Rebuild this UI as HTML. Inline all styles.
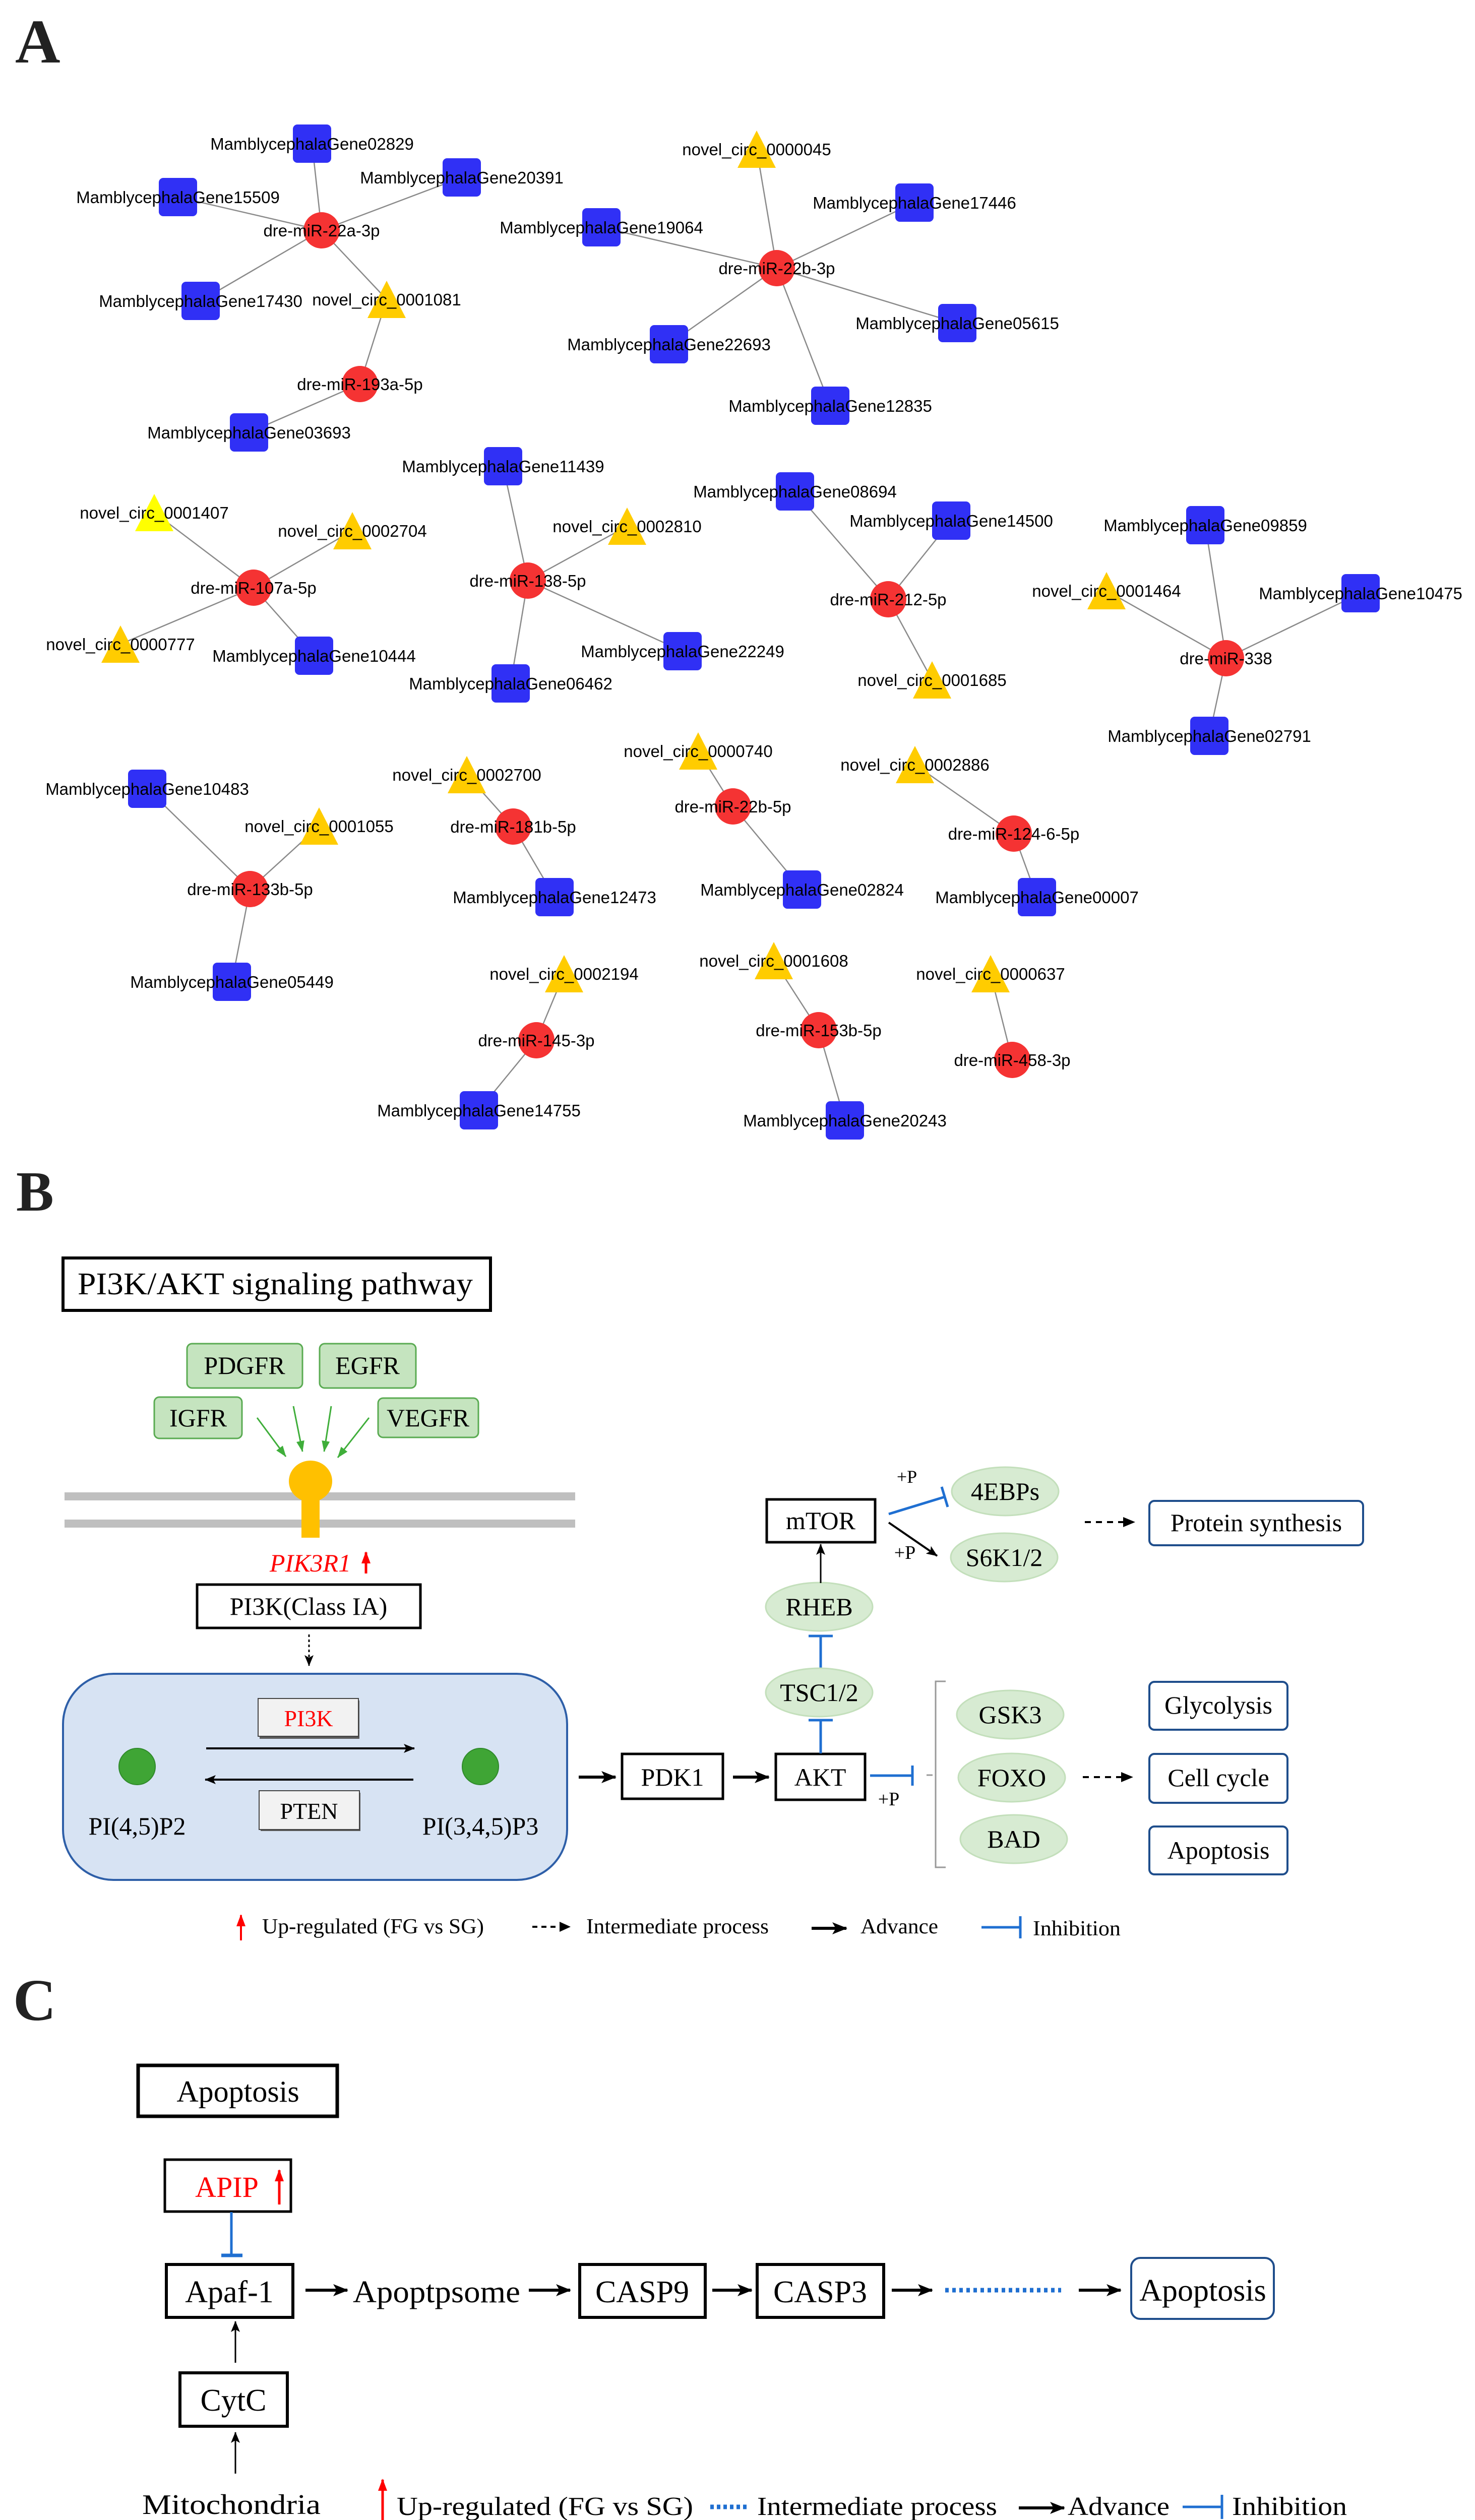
<!DOCTYPE html>
<html><head><meta charset="utf-8"><style>html,body{margin:0;padding:0;background:#fff;width:2926px;height:5041px;overflow:hidden}svg{display:block}</style></head>
<body>
<svg xmlns="http://www.w3.org/2000/svg" width="2926" height="5041" viewBox="0 0 2926 5041">
<defs>
<marker id="ab" markerUnits="userSpaceOnUse" markerWidth="30" markerHeight="30" viewBox="0 0 30 30" refX="28" refY="15" orient="auto"><path d="M0,3 L30,15 L0,27 L7,15 Z" fill="#000"/></marker>
<marker id="as" markerUnits="userSpaceOnUse" markerWidth="22" markerHeight="22" viewBox="0 0 22 22" refX="21" refY="11" orient="auto"><path d="M0,2 L22,11 L0,20 L5,11 Z" fill="#000"/></marker>
<marker id="ag" markerUnits="userSpaceOnUse" markerWidth="22" markerHeight="22" viewBox="0 0 22 22" refX="21" refY="11" orient="auto"><path d="M0,3 L22,11 L0,19 Z" fill="#3fae3a"/></marker>
<marker id="ar" markerUnits="userSpaceOnUse" markerWidth="24" markerHeight="24" viewBox="0 0 24 24" refX="22" refY="12" orient="auto"><path d="M0,3 L24,12 L0,21 Z" fill="#f00"/></marker>
</defs>
<rect width="2926" height="5041" fill="#fff"/>

<!-- ===== A ===== -->
<text x="30" y="124" font-family="Liberation Serif, serif" font-weight="bold" font-size="124" fill="#222">A</text>
<g stroke="#8a8a8a" stroke-width="2.5">
<line x1="638" y1="457" x2="619" y2="285"/><line x1="638" y1="457" x2="916" y2="352"/><line x1="638" y1="457" x2="353" y2="391"/><line x1="638" y1="457" x2="398" y2="597"/><line x1="638" y1="457" x2="767" y2="594"/>
<line x1="767" y1="594" x2="714" y2="762"/><line x1="714" y1="762" x2="494" y2="858"/>
<line x1="1541" y1="532" x2="1501" y2="296"/><line x1="1541" y1="532" x2="1193" y2="451"/><line x1="1541" y1="532" x2="1327" y2="683"/><line x1="1541" y1="532" x2="1814" y2="402"/><line x1="1541" y1="532" x2="1899" y2="641"/><line x1="1541" y1="532" x2="1647" y2="805"/>
<line x1="1762" y1="1189" x2="1577" y2="975"/><line x1="1762" y1="1189" x2="1887" y2="1033"/><line x1="1762" y1="1189" x2="1849" y2="1349"/>
<line x1="2432" y1="1306" x2="2391" y2="1042"/><line x1="2432" y1="1306" x2="2195" y2="1172"/><line x1="2432" y1="1306" x2="2699" y2="1177"/><line x1="2432" y1="1306" x2="2399" y2="1460"/>
<line x1="2011" y1="1654" x2="1815" y2="1517"/><line x1="2011" y1="1654" x2="2057" y2="1780"/>
<line x1="1454" y1="1600" x2="1385" y2="1490"/><line x1="1454" y1="1600" x2="1591" y2="1765"/>
<line x1="1624" y1="2044" x2="1535" y2="1906"/><line x1="1624" y1="2044" x2="1676" y2="2223"/>
<line x1="2008" y1="2103" x2="1965" y2="1932"/>
<line x1="503" y1="1166" x2="306" y2="1017"/><line x1="503" y1="1166" x2="699" y2="1053"/><line x1="503" y1="1166" x2="239" y2="1278"/><line x1="503" y1="1166" x2="623" y2="1301"/>
<line x1="1047" y1="1152" x2="998" y2="925"/><line x1="1047" y1="1152" x2="1244" y2="1044"/><line x1="1047" y1="1152" x2="1354" y2="1292"/><line x1="1047" y1="1152" x2="1013" y2="1356"/>
<line x1="496" y1="1764" x2="292" y2="1565"/><line x1="496" y1="1764" x2="633" y2="1639"/><line x1="496" y1="1764" x2="460" y2="1948"/>
<line x1="1018" y1="1640" x2="926" y2="1537"/><line x1="1018" y1="1640" x2="1100" y2="1780"/>
<line x1="1064" y1="2064" x2="1119" y2="1932"/><line x1="1064" y1="2064" x2="950" y2="2203"/>
</g>
<g fill="#3030f5">
<rect x="581" y="247" width="76" height="76" rx="9"/><rect x="878" y="314" width="76" height="76" rx="9"/><rect x="315" y="353" width="76" height="76" rx="9"/><rect x="360" y="559" width="76" height="76" rx="9"/><rect x="456" y="820" width="76" height="76" rx="9"/>
<rect x="1155" y="413" width="76" height="76" rx="9"/><rect x="1289" y="645" width="76" height="76" rx="9"/><rect x="1776" y="364" width="76" height="76" rx="9"/><rect x="1861" y="603" width="76" height="76" rx="9"/><rect x="1609" y="767" width="76" height="76" rx="9"/>
<rect x="1539" y="937" width="76" height="76" rx="9"/><rect x="1849" y="995" width="76" height="76" rx="9"/>
<rect x="2353" y="1004" width="76" height="76" rx="9"/><rect x="2661" y="1139" width="76" height="76" rx="9"/><rect x="2361" y="1422" width="76" height="76" rx="9"/>
<rect x="1553" y="1727" width="76" height="76" rx="9"/><rect x="2019" y="1742" width="76" height="76" rx="9"/><rect x="1638" y="2185" width="76" height="76" rx="9"/>
<rect x="960" y="887" width="76" height="76" rx="9"/><rect x="585" y="1263" width="76" height="76" rx="9"/><rect x="1316" y="1254" width="76" height="76" rx="9"/><rect x="975" y="1318" width="76" height="76" rx="9"/>
<rect x="254" y="1527" width="76" height="76" rx="9"/><rect x="422" y="1910" width="76" height="76" rx="9"/><rect x="1062" y="1742" width="76" height="76" rx="9"/><rect x="912" y="2165" width="76" height="76" rx="9"/>
</g>
<g fill="#f53333">
<circle cx="638" cy="457" r="36"/><circle cx="714" cy="762" r="36"/><circle cx="1541" cy="532" r="36"/><circle cx="1762" cy="1189" r="36"/><circle cx="2432" cy="1306" r="36"/>
<circle cx="2011" cy="1654" r="36"/><circle cx="1454" cy="1600" r="36"/><circle cx="1624" cy="2044" r="36"/><circle cx="2008" cy="2103" r="36"/>
<circle cx="503" cy="1166" r="36"/><circle cx="1047" cy="1152" r="36"/><circle cx="496" cy="1764" r="36"/><circle cx="1018" cy="1640" r="36"/><circle cx="1064" cy="2064" r="36"/>
</g>
<g fill="#ffcc00">
<polygon points="767,557 729,631 805,631"/><polygon points="1501,259 1463,333 1539,333"/><polygon points="1849,1312 1811,1386 1887,1386"/><polygon points="2195,1135 2157,1209 2233,1209"/>
<polygon points="1815,1480 1777,1554 1853,1554"/><polygon points="1385,1453 1347,1527 1423,1527"/><polygon points="1535,1869 1497,1943 1573,1943"/><polygon points="1965,1895 1927,1969 2003,1969"/>
<polygon points="699,1016 661,1090 737,1090"/><polygon points="239,1241 201,1315 277,1315"/><polygon points="1244,1007 1206,1081 1282,1081"/>
<polygon points="633,1602 595,1676 671,1676"/><polygon points="926,1500 888,1574 964,1574"/><polygon points="1119,1895 1081,1969 1157,1969"/>
</g>
<polygon points="306,980 268,1054 344,1054" fill="#ffff00"/>
<g font-family="Liberation Sans, Arial, sans-serif" font-size="33" fill="#000" text-anchor="middle">
<text x="619" y="297">MamblycephalaGene02829</text><text x="916" y="364">MamblycephalaGene20391</text><text x="353" y="403">MamblycephalaGene15509</text><text x="638" y="469">dre-miR-22a-3p</text>
<text x="398" y="609">MamblycephalaGene17430</text><text x="767" y="606">novel_circ_0001081</text><text x="714" y="774">dre-miR-193a-5p</text><text x="494" y="870">MamblycephalaGene03693</text>
<text x="1501" y="308">novel_circ_0000045</text><text x="1193" y="463">MamblycephalaGene19064</text><text x="1541" y="544">dre-miR-22b-3p</text><text x="1327" y="695">MamblycephalaGene22693</text>
<text x="1814" y="414">MamblycephalaGene17446</text><text x="1899" y="653">MamblycephalaGene05615</text><text x="1647" y="817">MamblycephalaGene12835</text>
<text x="1577" y="987">MamblycephalaGene08694</text><text x="1887" y="1045">MamblycephalaGene14500</text><text x="1762" y="1201">dre-miR-212-5p</text><text x="1849" y="1361">novel_circ_0001685</text>
<text x="2391" y="1054">MamblycephalaGene09859</text><text x="2195" y="1184">novel_circ_0001464</text><text x="2699" y="1189">MamblycephalaGene10475</text><text x="2432" y="1318">dre-miR-338</text><text x="2399" y="1472">MamblycephalaGene02791</text>
<text x="1815" y="1529">novel_circ_0002886</text><text x="2011" y="1666">dre-miR-124-6-5p</text><text x="2057" y="1792">MamblycephalaGene00007</text>
<text x="1385" y="1502">novel_circ_0000740</text><text x="1454" y="1612">dre-miR-22b-5p</text><text x="1591" y="1777">MamblycephalaGene02824</text>
<text x="1535" y="1918">novel_circ_0001608</text><text x="1624" y="2056">dre-miR-153b-5p</text><text x="1676" y="2235">MamblycephalaGene20243</text>
<text x="1965" y="1944">novel_circ_0000637</text><text x="2008" y="2115">dre-miR-458-3p</text>
<text x="306" y="1029">novel_circ_0001407</text><text x="699" y="1065">novel_circ_0002704</text><text x="503" y="1178">dre-miR-107a-5p</text><text x="239" y="1290">novel_circ_0000777</text><text x="623" y="1313">MamblycephalaGene10444</text>
<text x="998" y="937">MamblycephalaGene11439</text><text x="1244" y="1056">novel_circ_0002810</text><text x="1047" y="1164">dre-miR-138-5p</text><text x="1354" y="1304">MamblycephalaGene22249</text><text x="1013" y="1368">MamblycephalaGene06462</text>
<text x="292" y="1577">MamblycephalaGene10483</text><text x="633" y="1651">novel_circ_0001055</text><text x="496" y="1776">dre-miR-133b-5p</text><text x="460" y="1960">MamblycephalaGene05449</text>
<text x="926" y="1549">novel_circ_0002700</text><text x="1018" y="1652">dre-miR-181b-5p</text><text x="1100" y="1792">MamblycephalaGene12473</text>
<text x="1119" y="1944">novel_circ_0002194</text><text x="1064" y="2076">dre-miR-145-3p</text><text x="950" y="2215">MamblycephalaGene14755</text>
</g>

<!-- ===== B ===== -->
<g font-family="Liberation Serif, serif" fill="#000">
<text x="32" y="2402" font-weight="bold" font-size="112" fill="#222">B</text>
<rect x="125" y="2496" width="848" height="104" fill="#fff" stroke="#000" stroke-width="6"/>
<text x="154" y="2568" font-size="62" textLength="784" lengthAdjust="spacingAndGlyphs">PI3K/AKT signaling pathway</text>

<g fill="#c5e4bf" stroke="#5aab52" stroke-width="3">
<rect x="371" y="2666" width="229" height="88" rx="10"/><rect x="634" y="2666" width="191" height="88" rx="10"/>
<rect x="306" y="2772" width="174" height="82" rx="10"/><rect x="750" y="2774" width="199" height="78" rx="10"/>
</g>
<g font-size="50" text-anchor="middle">
<text x="485" y="2726">PDGFR</text><text x="729" y="2726">EGFR</text><text x="393" y="2830">IGFR</text><text x="849" y="2830">VEGFR</text>
</g>
<g stroke="#3fae3a" stroke-width="3" marker-end="url(#ag)">
<line x1="510" y1="2813" x2="567" y2="2890"/><line x1="582" y1="2790" x2="600" y2="2880"/><line x1="657" y1="2790" x2="643" y2="2880"/><line x1="732" y1="2813" x2="670" y2="2892"/>
</g>
<rect x="128" y="2961" width="1013" height="16" fill="#bfbfbf"/>
<rect x="128" y="3015" width="1013" height="16" fill="#bfbfbf"/>
<rect x="598" y="2940" width="36" height="111" fill="#ffc000"/>
<ellipse cx="616" cy="2939" rx="43" ry="41" fill="#ffc000"/>

<text x="535" y="3118" font-size="50" font-style="italic" fill="#f00">PIK3R1</text>
<line x1="726" y1="3122" x2="726" y2="3080" stroke="#f00" stroke-width="5" marker-end="url(#ar)"/>
<rect x="391" y="3144" width="443" height="86" fill="#fff" stroke="#000" stroke-width="5"/>
<text x="612" y="3204" font-size="50" text-anchor="middle">PI3K(Class IA)</text>
<line x1="613" y1="3243" x2="613" y2="3305" stroke="#000" stroke-width="3" stroke-dasharray="5,5" marker-end="url(#as)"/>

<rect x="125" y="3321" width="1000" height="409" rx="100" fill="#d7e3f3" stroke="#2e5fa8" stroke-width="4"/>
<rect x="515" y="3374" width="198" height="76" fill="#5a5a5a"/>
<rect x="512" y="3370" width="199" height="75" fill="#f2f2f2" stroke="#444" stroke-width="2"/>
<text x="612" y="3425" font-size="46" text-anchor="middle" fill="#f00">PI3K</text>
<line x1="409" y1="3469" x2="822" y2="3469" stroke="#000" stroke-width="4" marker-end="url(#as)"/>
<line x1="820" y1="3531" x2="407" y2="3531" stroke="#000" stroke-width="4" marker-end="url(#as)"/>
<rect x="517" y="3557" width="198" height="76" fill="#5a5a5a"/>
<rect x="514" y="3553" width="199" height="77" fill="#f2f2f2" stroke="#444" stroke-width="2"/>
<text x="613" y="3609" font-size="46" text-anchor="middle">PTEN</text>
<ellipse cx="272" cy="3505" rx="36" ry="36" fill="#3fa535" stroke="#2f8a2a" stroke-width="2"/>
<ellipse cx="953" cy="3505" rx="36" ry="36" fill="#3fa535" stroke="#2f8a2a" stroke-width="2"/>
<text x="272" y="3640" font-size="50" text-anchor="middle">PI(4,5)P2</text>
<text x="953" y="3640" font-size="50" text-anchor="middle">PI(3,4,5)P3</text>

<line x1="1148" y1="3526" x2="1221" y2="3526" stroke="#000" stroke-width="6" marker-end="url(#ab)"/>
<rect x="1234" y="3480" width="200" height="89" fill="#fff" stroke="#000" stroke-width="5"/>
<text x="1334" y="3543" font-size="50" text-anchor="middle">PDK1</text>
<line x1="1454" y1="3526" x2="1525" y2="3526" stroke="#000" stroke-width="6" marker-end="url(#ab)"/>
<rect x="1539" y="3480" width="177" height="91" fill="#fff" stroke="#000" stroke-width="5"/>
<text x="1627" y="3543" font-size="50" text-anchor="middle">AKT</text>

<g stroke="#1f6fd1" stroke-width="5" fill="none">
<line x1="1726" y1="3523" x2="1810" y2="3523"/><line x1="1810" y1="3503" x2="1810" y2="3543"/>
<line x1="1628" y1="3479" x2="1628" y2="3413"/><line x1="1604" y1="3413" x2="1652" y2="3413"/>
<line x1="1628" y1="3310" x2="1628" y2="3246"/><line x1="1604" y1="3246" x2="1652" y2="3246"/>
<line x1="1763" y1="3004" x2="1874" y2="2970"/><line x1="1868" y1="2950" x2="1880" y2="2990"/>
</g>
<text x="1763" y="3582" font-size="38" text-anchor="middle">+P</text>
<path d="M1876,3336 L1856,3336 L1856,3705 L1876,3705" fill="none" stroke="#999" stroke-width="3"/>
<line x1="1838" y1="3522" x2="1850" y2="3522" stroke="#999" stroke-width="3"/>

<g fill="#d7ebd2" stroke="#c3dfbb" stroke-width="3">
<ellipse cx="2004" cy="3402" rx="106" ry="48"/><ellipse cx="2007" cy="3527" rx="106" ry="48"/><ellipse cx="2011" cy="3649" rx="106" ry="48"/>
<ellipse cx="1625" cy="3358" rx="106" ry="48"/><ellipse cx="1625" cy="3188" rx="106" ry="48"/>
<ellipse cx="1994" cy="2959" rx="106" ry="48"/><ellipse cx="1992" cy="3090" rx="106" ry="48"/>
</g>
<g font-size="50" text-anchor="middle">
<text x="2004" y="3419">GSK3</text><text x="2007" y="3544">FOXO</text><text x="2011" y="3666">BAD</text>
<text x="1625" y="3375">TSC1/2</text><text x="1625" y="3205">RHEB</text>
<text x="1994" y="2976">4EBPs</text><text x="1992" y="3107">S6K1/2</text>
</g>
<line x1="1628" y1="3141" x2="1628" y2="3064" stroke="#000" stroke-width="3" marker-end="url(#as)"/>
<rect x="1521" y="2975" width="215" height="85" fill="#fff" stroke="#000" stroke-width="5"/>
<text x="1628" y="3034" font-size="50" text-anchor="middle">mTOR</text>
<line x1="1763" y1="3021" x2="1859" y2="3087" stroke="#000" stroke-width="4" marker-end="url(#as)"/>
<text x="1799" y="2942" font-size="36" text-anchor="middle">+P</text>
<text x="1795" y="3093" font-size="38" text-anchor="middle">+P</text>

<g stroke="#000" stroke-width="4" stroke-dasharray="12,10">
<line x1="2152" y1="3020" x2="2230" y2="3020"/><line x1="2148" y1="3526" x2="2226" y2="3526"/>
</g>
<path d="M2228,3010 L2252,3020 L2228,3030 Z"/><path d="M2224,3516 L2248,3526 L2224,3536 Z"/>
<g fill="#fff" stroke="#1f4e8c" stroke-width="4">
<rect x="2280" y="2978" width="424" height="88" rx="10"/>
<rect x="2280" y="3337" width="274" height="95" rx="10"/>
<rect x="2280" y="3480" width="274" height="97" rx="10"/>
<rect x="2280" y="3624" width="274" height="95" rx="10"/>
</g>
<g font-size="50" text-anchor="middle">
<text x="2492" y="3038">Protein synthesis</text><text x="2417" y="3400">Glycolysis</text><text x="2417" y="3544">Cell cycle</text><text x="2417" y="3688">Apoptosis</text>
</g>

<line x1="478" y1="3850" x2="478" y2="3800" stroke="#f00" stroke-width="4" marker-end="url(#ar)"/>
<g font-size="42">
<text x="520" y="3836" textLength="440" lengthAdjust="spacingAndGlyphs">Up-regulated (FG vs SG)</text>
<text x="1163" y="3836" textLength="362" lengthAdjust="spacingAndGlyphs">Intermediate process</text>
<text x="1707" y="3836" textLength="154" lengthAdjust="spacingAndGlyphs">Advance</text>
<text x="2049" y="3840" textLength="174" lengthAdjust="spacingAndGlyphs">Inhibition</text>
</g>
<line x1="1056" y1="3823" x2="1112" y2="3823" stroke="#000" stroke-width="4" stroke-dasharray="10,8"/>
<path d="M1110,3813 L1132,3823 L1110,3833 Z"/>
<line x1="1610" y1="3826" x2="1679" y2="3826" stroke="#000" stroke-width="6" marker-end="url(#ab)"/>
<line x1="1947" y1="3824" x2="2024" y2="3824" stroke="#1f6fd1" stroke-width="5"/>
<line x1="2024" y1="3802" x2="2024" y2="3846" stroke="#1f6fd1" stroke-width="5"/>

<!-- ===== C ===== -->
<text x="26" y="4008" font-size="118" fill="#222" font-weight="bold">C</text>
<rect x="274" y="4098" width="395" height="101" fill="#fff" stroke="#000" stroke-width="7"/>
<text x="472" y="4170" font-size="60" text-anchor="middle">Apoptosis</text>
<rect x="327" y="4285" width="250" height="103" fill="#fff" stroke="#000" stroke-width="5"/>
<text x="450" y="4359" font-size="58" text-anchor="middle" fill="#f00">APIP</text>
<line x1="554" y1="4374" x2="554" y2="4306" stroke="#f00" stroke-width="5" marker-end="url(#ar)"/>
<line x1="459" y1="4389" x2="459" y2="4475" stroke="#1f6fd1" stroke-width="5"/>
<line x1="439" y1="4475" x2="481" y2="4475" stroke="#1f6fd1" stroke-width="7"/>
<g fill="#fff" stroke="#000" stroke-width="6">
<rect x="330" y="4493" width="251" height="105"/><rect x="1150" y="4493" width="249" height="105"/><rect x="1502" y="4493" width="251" height="105"/>
<rect x="357" y="4708" width="213" height="106"/>
</g>
<g font-size="62" text-anchor="middle">
<text x="455" y="4568">Apaf-1</text><text x="1274" y="4568">CASP9</text><text x="1627" y="4568">CASP3</text>
<text x="866" y="4568" textLength="332" lengthAdjust="spacingAndGlyphs">Apoptpsome</text>
<text x="463" y="4783">CytC</text>
</g>
<g stroke="#000" stroke-width="6" marker-end="url(#ab)">
<line x1="606" y1="4544" x2="689" y2="4544"/><line x1="1049" y1="4544" x2="1131" y2="4544"/><line x1="1413" y1="4544" x2="1491" y2="4544"/><line x1="1769" y1="4544" x2="1849" y2="4544"/><line x1="2140" y1="4544" x2="2223" y2="4544"/>
</g>
<line x1="1875" y1="4544" x2="2105" y2="4544" stroke="#1f6fd1" stroke-width="9" stroke-dasharray="7,7"/>
<rect x="2244" y="4480" width="283" height="121" rx="18" fill="#fff" stroke="#1f4e8c" stroke-width="4"/>
<text x="2386" y="4565" font-size="62" text-anchor="middle">Apoptosis</text>
<g stroke="#000" stroke-width="3" marker-end="url(#as)">
<line x1="467" y1="4688" x2="467" y2="4606"/><line x1="467" y1="4908" x2="467" y2="4826"/>
</g>
<text x="459" y="4988" font-size="56" text-anchor="middle" textLength="354" lengthAdjust="spacingAndGlyphs">Mitochondria</text>
<line x1="759" y1="5006" x2="759" y2="4920" stroke="#f00" stroke-width="5" marker-end="url(#ar)"/>
<g font-size="52">
<text x="787" y="4990" textLength="588" lengthAdjust="spacingAndGlyphs">Up-regulated (FG vs SG)</text>
<text x="1502" y="4990" textLength="476" lengthAdjust="spacingAndGlyphs">Intermediate process</text>
<text x="2118" y="4990" textLength="202" lengthAdjust="spacingAndGlyphs">Advance</text>
<text x="2444" y="4990" textLength="228" lengthAdjust="spacingAndGlyphs">Inhibition</text>
</g>
<line x1="1409" y1="4974" x2="1483" y2="4974" stroke="#1f6fd1" stroke-width="9" stroke-dasharray="7,6"/>
<line x1="2021" y1="4976" x2="2111" y2="4976" stroke="#000" stroke-width="6" marker-end="url(#ab)"/>
<line x1="2346" y1="4974" x2="2424" y2="4974" stroke="#1f6fd1" stroke-width="5"/>
<line x1="2424" y1="4950" x2="2424" y2="4998" stroke="#1f6fd1" stroke-width="5"/>
</g>
</svg>
</body></html>
